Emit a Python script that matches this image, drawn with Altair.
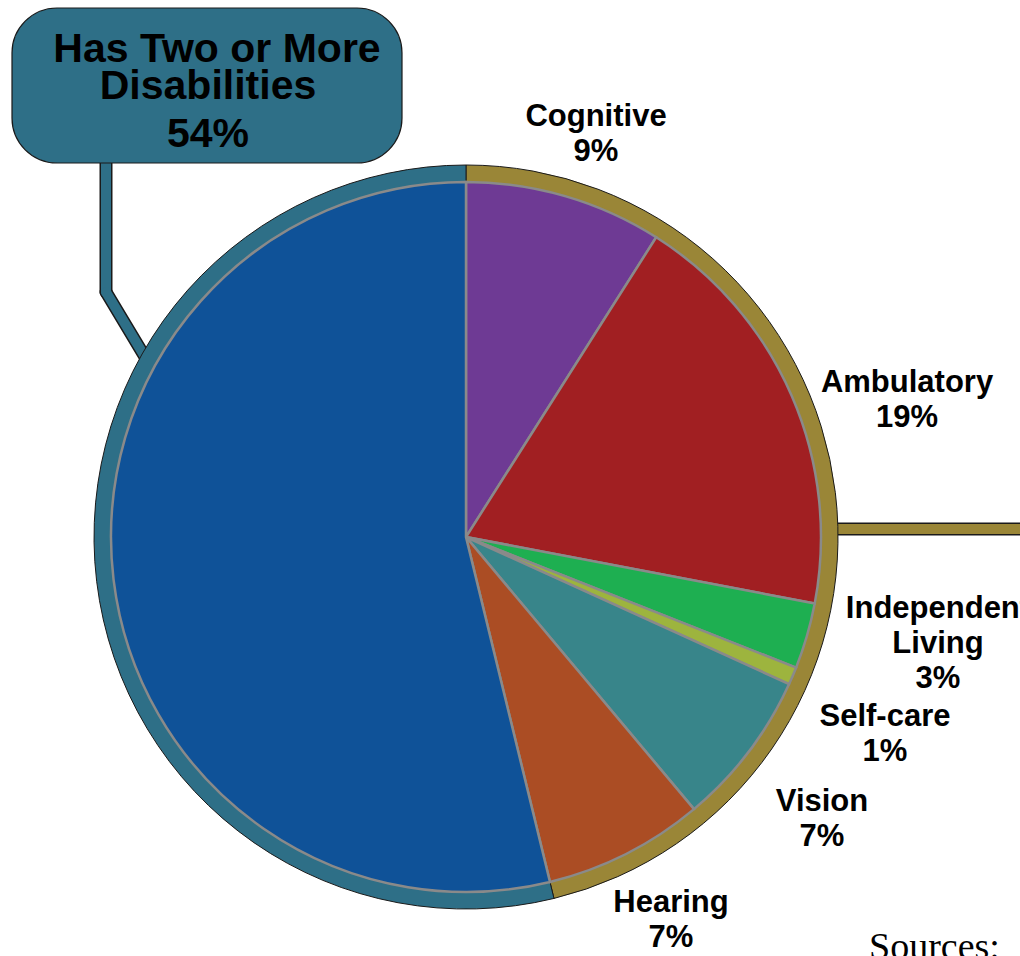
import altair as alt
import pandas as pd

categories = ["Cognitive", "Ambulatory", "Independent Living", "Self-care", "Vision", "Hearing", "Has Two or More Disabilities"]
values = [9.0, 19.0, 3.0, 0.8, 7.1, 7.3, 53.8]
pct_labels = ["9%", "19%", "3%", "1%", "7%", "7%", "54%"]
slice_colors = ["#6E3A94", "#A11F22", "#1EAF51", "#9DB43E", "#38858A", "#AB4D24", "#0F5298"]

ring_groups = ["Single disability", "Two or more"]
ring_values = [46.2, 53.8]
ring_colors = ["#9A8637", "#2E6F87"]

CX, CY = 466, 537
R_PIE, R_RING = 355, 372

pie_df = pd.DataFrame({"category": categories, "value": values, "order": list(range(len(categories)))})
ring_df = pd.DataFrame({"group": ring_groups, "value": ring_values, "order": [0, 1]})
dummy = pd.DataFrame({"a": [0]})

FONT = "Liberation Sans"


def rule(x1, y1, x2, y2, color, w, cap="round"):
    return alt.Chart(dummy).mark_rule(color=color, strokeWidth=w, strokeCap=cap).encode(
        x=alt.value(x1), y=alt.value(y1), x2=alt.value(x2), y2=alt.value(y2))


def label(lines, x, y, size=31, font=FONT, weight="bold", lh=35):
    return alt.Chart(dummy).mark_text(
        text=lines, font=font, fontSize=size, fontWeight=weight, color="#000000",
        align="center", baseline="alphabetic", lineHeight=lh,
    ).encode(x=alt.value(x), y=alt.value(y))


# leader lines (drawn under the ring)
leaders = [
    rule(106, 160, 106, 292, "#1a1a1a", 13),
    rule(106, 292, 148, 362, "#1a1a1a", 13),
    rule(106, 160, 106, 292, "#2E6F87", 10),
    rule(106, 292, 148, 362, "#2E6F87", 10),
    rule(820, 529, 1020, 529, "#1a1a1a", 13, "butt"),
    rule(820, 529, 1020, 529, "#9A8637", 10, "butt"),
]

ring = alt.Chart(ring_df).mark_arc(radius=R_RING, radius2=R_PIE - 2, stroke="#1a1a1a", strokeWidth=1).encode(
    theta=alt.Theta("value:Q", stack=True),
    order=alt.Order("order:Q"),
    color=alt.Color("group:N", scale=alt.Scale(domain=ring_groups, range=ring_colors), legend=None),
    x=alt.value(CX), y=alt.value(CY),
)

pie = alt.Chart(pie_df).mark_arc(radius=R_PIE, stroke="#8A8A8A", strokeWidth=2.5).encode(
    theta=alt.Theta("value:Q", stack=True),
    order=alt.Order("order:Q"),
    color=alt.Color("category:N", scale=alt.Scale(domain=categories, range=slice_colors), legend=None),
    x=alt.value(CX), y=alt.value(CY),
)

box = alt.Chart(dummy).mark_rect(fill="#2E6F87", stroke="#1a1a1a", strokeWidth=1.2, cornerRadius=45).encode(
    x=alt.value(12), x2=alt.value(402), y=alt.value(8), y2=alt.value(163))

texts = [
    label(["Has Two or More"], 217, 62, size=41),
    label(["Disabilities"], 208, 99, size=41),
    label([pct_labels[6]], 208, 147, size=41),
    label([categories[0], pct_labels[0]], 596, 126),
    label([categories[1], pct_labels[1]], 907, 392),
    label(["Independent", "Living", pct_labels[2]], 938, 618),
    label([categories[3], pct_labels[3]], 885, 726),
    label([categories[4], pct_labels[4]], 822, 811),
    label([categories[5], pct_labels[5]], 671, 912),
    alt.Chart(dummy).mark_text(text="Sources:", font="Liberation Serif", fontSize=38, color="#000000",
                               align="left", baseline="alphabetic").encode(x=alt.value(869), y=alt.value(959)),
]

chart = alt.layer(*leaders, ring, pie, box, *texts).resolve_scale(
    color="independent", theta="independent"
).properties(
    width=1020, height=956, padding=0, autosize=alt.AutoSizeParams(type="none"),
    background="#ffffff",
).configure_view(stroke=None)

chart.save("out.html", embed_options={"renderer": "svg", "actions": False})
